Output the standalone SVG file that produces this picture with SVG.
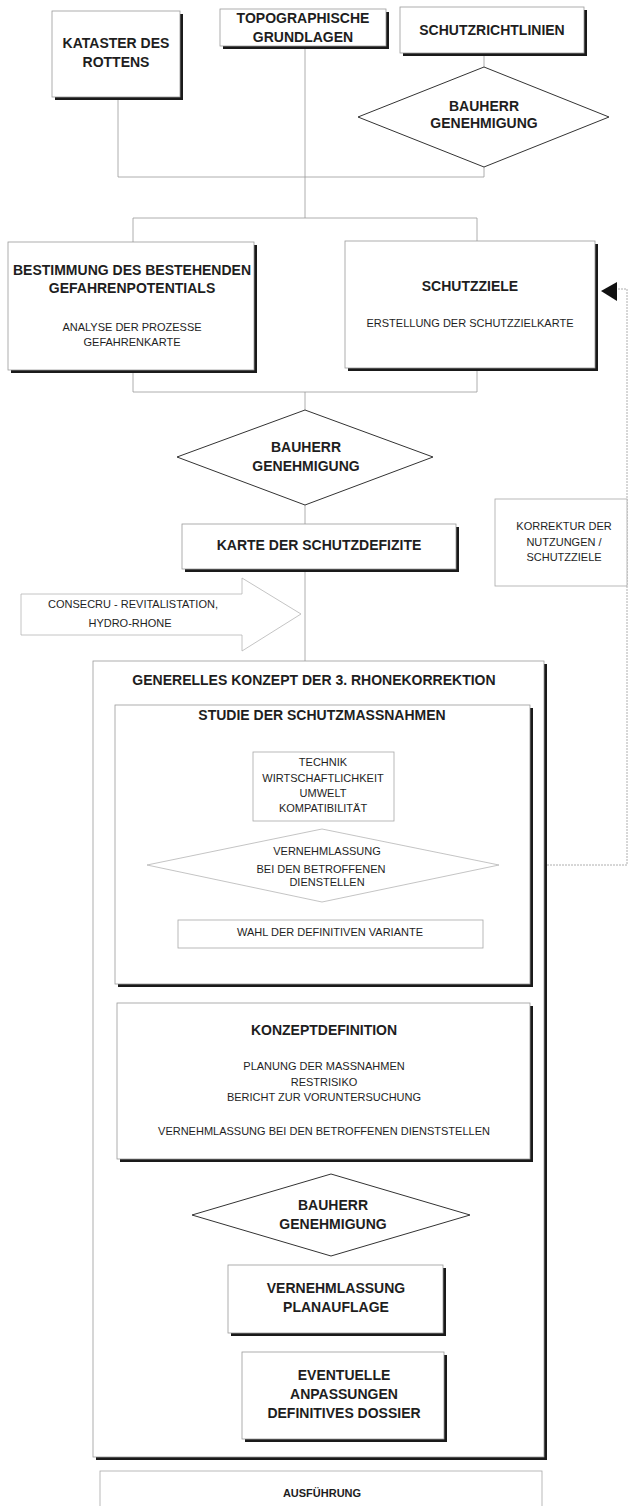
<svg xmlns="http://www.w3.org/2000/svg" width="630" height="1506" viewBox="0 0 630 1506">
<style>
text{font-family:"Liberation Sans",Arial,sans-serif;fill:#1e1e1e;text-anchor:middle}
.b{font-weight:bold;font-size:14px}
.r{font-size:11px}
.bs{font-weight:bold;font-size:11px}
.box{fill:#fff;stroke:#9a9a9a;stroke-width:0.8}
.sh{fill:#1a1a1a}
.lbox{fill:#fff;stroke:#a8a8a8;stroke-width:0.8}
.dia{fill:#fff;stroke:#333;stroke-width:1}
.ldia{fill:#fff;stroke:#b5b5b5;stroke-width:0.8}
.con{fill:none;stroke:#9a9a9a;stroke-width:0.8}
</style>
<rect width="630" height="1506" fill="#fff"/>
<g id="connectors">
<path class="con" d="M118,97 V177 H484"/>
<path class="con" d="M484,55 V67"/>
<path class="con" d="M484,167 V177"/>
<path class="con" d="M305,47 V218"/>
<path class="con" d="M133,242 V218 H477 V241"/>
<path class="con" d="M133,370 V392 H477 V368"/>
<path class="con" d="M305,392 V410"/>
<path class="con" d="M305,505 V524"/>
<path class="con" d="M305,569 V661"/>
<path class="con" d="M499,865 H627 V289 H617" stroke-dasharray="2,1"/>
<polygon points="601,291 617,282 617,301" fill="#111"/>
</g>
<g id="kataster">
<rect class="sh" x="55" y="14" width="128" height="86"/>
<rect class="box" x="52" y="11" width="128" height="86"/>
<text class="b" x="116" y="48">KATASTER DES</text>
<text class="b" x="116" y="67">ROTTENS</text>
</g>
<g id="topo">
<rect class="sh" x="223" y="12" width="166" height="37"/>
<rect class="box" x="220" y="9" width="166" height="37"/>
<text class="b" x="303" y="23">TOPOGRAPHISCHE</text>
<text class="b" x="303" y="42">GRUNDLAGEN</text>
</g>
<g id="schutzrichtlinien">
<rect class="sh" x="403" y="10" width="184" height="46"/>
<rect class="box" x="400" y="7" width="184" height="46"/>
<text class="b" x="492" y="35">SCHUTZRICHTLINIEN</text>
</g>
<g id="bauherr1">
<polygon class="dia" points="484,67 609,117 484,167 358,117"/>
<text class="b" x="484" y="111">BAUHERR</text>
<text class="b" x="484" y="128">GENEHMIGUNG</text>
</g>
<g id="bestimmung">
<rect class="sh" x="11" y="245" width="246" height="128"/>
<rect class="box" x="8" y="242" width="246" height="128"/>
<text class="b" x="132" y="275">BESTIMMUNG DES BESTEHENDEN</text>
<text class="b" x="132" y="293">GEFAHRENPOTENTIALS</text>
<text class="r" x="132" y="331">ANALYSE DER PROZESSE</text>
<text class="r" x="132" y="346">GEFAHRENKARTE</text>
</g>
<g id="schutzziele">
<rect class="sh" x="348" y="244" width="250" height="127"/>
<rect class="box" x="345" y="241" width="250" height="127"/>
<text class="b" x="470" y="291">SCHUTZZIELE</text>
<text class="r" x="470" y="327">ERSTELLUNG DER SCHUTZZIELKARTE</text>
</g>
<g id="bauherr2">
<polygon class="dia" points="305,410 433,457 305,505 177,457"/>
<text class="b" x="306" y="452">BAUHERR</text>
<text class="b" x="306" y="471">GENEHMIGUNG</text>
</g>
<g id="karte">
<rect class="sh" x="185" y="527" width="274" height="45"/>
<rect class="box" x="182" y="524" width="274" height="45"/>
<text class="b" x="319" y="550">KARTE DER SCHUTZDEFIZITE</text>
</g>
<g id="consecru">
<polygon class="ldia" points="21,594 242,594 242,578 301,614 242,651 242,635 21,635"/>
<text class="r" x="133" y="608">CONSECRU - REVITALISTATION,</text>
<text class="r" x="130" y="627">HYDRO-RHONE</text>
</g>
<g id="korrektur">
<rect class="lbox" x="495" y="499" width="132" height="87"/>
<text class="r" x="564" y="530">KORREKTUR DER</text>
<text class="r" x="564" y="546">NUTZUNGEN /</text>
<text class="r" x="564" y="561">SCHUTZZIELE</text>
</g>
<g id="generelles">
<rect class="sh" x="96" y="664" width="451" height="796"/>
<rect class="box" x="93" y="661" width="451" height="796"/>
<text class="b" x="314" y="685">GENERELLES KONZEPT DER 3. RHONEKORREKTION</text>
</g>
<g id="studie">
<rect class="sh" x="118" y="708" width="415" height="279"/>
<rect class="box" x="115" y="705" width="415" height="279"/>
<text class="b" x="322" y="720">STUDIE DER SCHUTZMASSNAHMEN</text>
</g>
<g id="technik">
<rect class="lbox" x="253" y="752" width="141" height="69"/>
<text class="r" x="323" y="766">TECHNIK</text>
<text class="r" x="323" y="782">WIRTSCHAFTLICHKEIT</text>
<text class="r" x="323" y="797">UMWELT</text>
<text class="r" x="323" y="812">KOMPATIBILITÄT</text>
</g>
<g id="vernehmlassung1">
<polygon class="ldia" points="322,829 499,865 322,902 147,865"/>
<text class="r" x="327" y="855">VERNEHMLASSUNG</text>
<text class="r" x="321" y="873">BEI DEN BETROFFENEN</text>
<text class="r" x="327" y="886">DIENSTELLEN</text>
</g>
<g id="wahl">
<rect class="lbox" x="178" y="920" width="305" height="28"/>
<text class="r" x="330" y="936">WAHL DER DEFINITIVEN VARIANTE</text>
</g>
<g id="konzeptdefinition">
<rect class="sh" x="120" y="1006" width="413" height="156"/>
<rect class="box" x="117" y="1003" width="413" height="156"/>
<text class="b" x="324" y="1035">KONZEPTDEFINITION</text>
<text class="r" x="324" y="1070">PLANUNG DER MASSNAHMEN</text>
<text class="r" x="324" y="1086">RESTRISIKO</text>
<text class="r" x="324" y="1101">BERICHT ZUR VORUNTERSUCHUNG</text>
<text class="r" x="324" y="1135">VERNEHMLASSUNG BEI DEN BETROFFENEN DIENSTSTELLEN</text>
</g>
<g id="bauherr3">
<polygon class="dia" points="331,1174 470,1215 331,1256 192,1215"/>
<text class="b" x="333" y="1210">BAUHERR</text>
<text class="b" x="333" y="1229">GENEHMIGUNG</text>
</g>
<g id="planauflage">
<rect class="sh" x="231" y="1268" width="215" height="68"/>
<rect class="box" x="228" y="1265" width="215" height="68"/>
<text class="b" x="336" y="1293">VERNEHMLASSUNG</text>
<text class="b" x="336" y="1312">PLANAUFLAGE</text>
</g>
<g id="eventuelle">
<rect class="sh" x="245" y="1355" width="202" height="87"/>
<rect class="box" x="242" y="1352" width="202" height="87"/>
<text class="b" x="344" y="1380">EVENTUELLE</text>
<text class="b" x="344" y="1399">ANPASSUNGEN</text>
<text class="b" x="344" y="1418">DEFINITIVES DOSSIER</text>
</g>
<g id="ausfuehrung">
<rect class="lbox" x="100" y="1471" width="442" height="45"/>
<text class="bs" x="322" y="1497">AUSFÜHRUNG</text>
</g>
</svg>
